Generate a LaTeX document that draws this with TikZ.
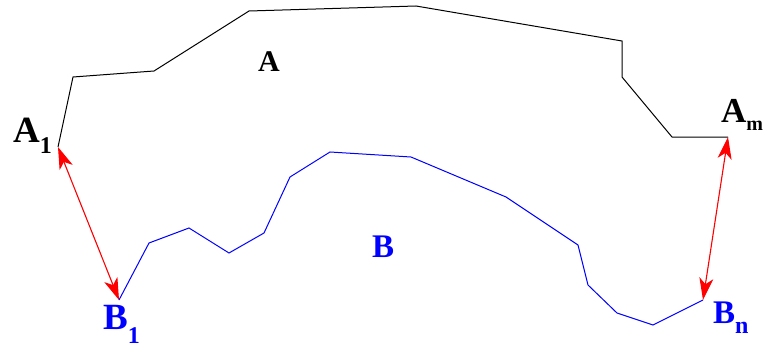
\documentclass[tikz,border=0pt]{standalone}
\usepackage{fontspec}
\setmainfont{Liberation Serif}
\usetikzlibrary{arrows.meta,positioning}
\definecolor{chaina}{HTML}{000000}
\definecolor{chainb}{HTML}{0000FF}
\definecolor{gapred}{HTML}{FF0000}
\newcommand{\sublbl}[4][24]{#2\raisebox{-#4}{\fontsize{#1}{#1}\selectfont #3}}
\tikzset{
  chain/.style={line width=1pt, line join=miter},
  gap/.style={{Stealth[length=22pt,width=14pt,inset=6pt]}-{Stealth[length=22pt,width=14pt,inset=6pt]},
    line width=1.1pt, color=gapred},
  cornerlbl/.style={anchor=base west, inner sep=0pt, font=\fontsize{37}{37}\selectfont\bfseries},
  regionlbl/.style={anchor=base west, inner sep=0pt, font=\fontsize{30}{30}\selectfont\bfseries},
}
\begin{document}
\begin{tikzpicture}[x=1pt,y=-1pt]
  \useasboundingbox (0,0) rectangle (764,348);
  % end points of both chains
  \coordinate (a1) at (58,147);
  \coordinate (am) at (728,137);
  \coordinate (b1) at (119,300);
  \coordinate (bn) at (703,300);
  % chain A
  \draw[chain, chaina] (a1) -- (73,77) -- (154,71) -- (249,11) -- (416,6) -- (622,41)
    -- (622,77) -- (672,137) -- (am);
  % chain B
  \draw[chain, chainb] (b1) -- (149,243) -- (189,228) -- (229,253) -- (264,233) -- (290,177)
    -- (330,152) -- (411,157) -- (506,197) -- (578,245) -- (588,285) -- (617,313)
    -- (653,325) -- (bn);
  % gaps at the two ends
  \draw[gap] (a1) -- (b1);
  \draw[gap] (am) -- (bn);
  % labels
  \node[cornerlbl, text=chaina] (la1) at (13,142) {\sublbl{A}{1}{11pt}};
  \node[cornerlbl, text=chaina, font=\fontsize{35}{35}\selectfont\bfseries] (lam) at (721,122) {\sublbl[20]{A}{m}{8pt}};
  \node[cornerlbl, text=chainb] (lb1) at (103,329) {\sublbl{B}{1}{14pt}};
  \node[cornerlbl, text=chainb, font=\fontsize{33}{33}\selectfont\bfseries] (lbn) at (713,323) {\sublbl{B}{n}{10pt}};
  \node[regionlbl, text=chaina] (la) at (258,71) {A};
  \node[regionlbl, font=\fontsize{33}{33}\selectfont\bfseries, text=chainb] (lb) at (372,257) {B};
\end{tikzpicture}
\end{document}
